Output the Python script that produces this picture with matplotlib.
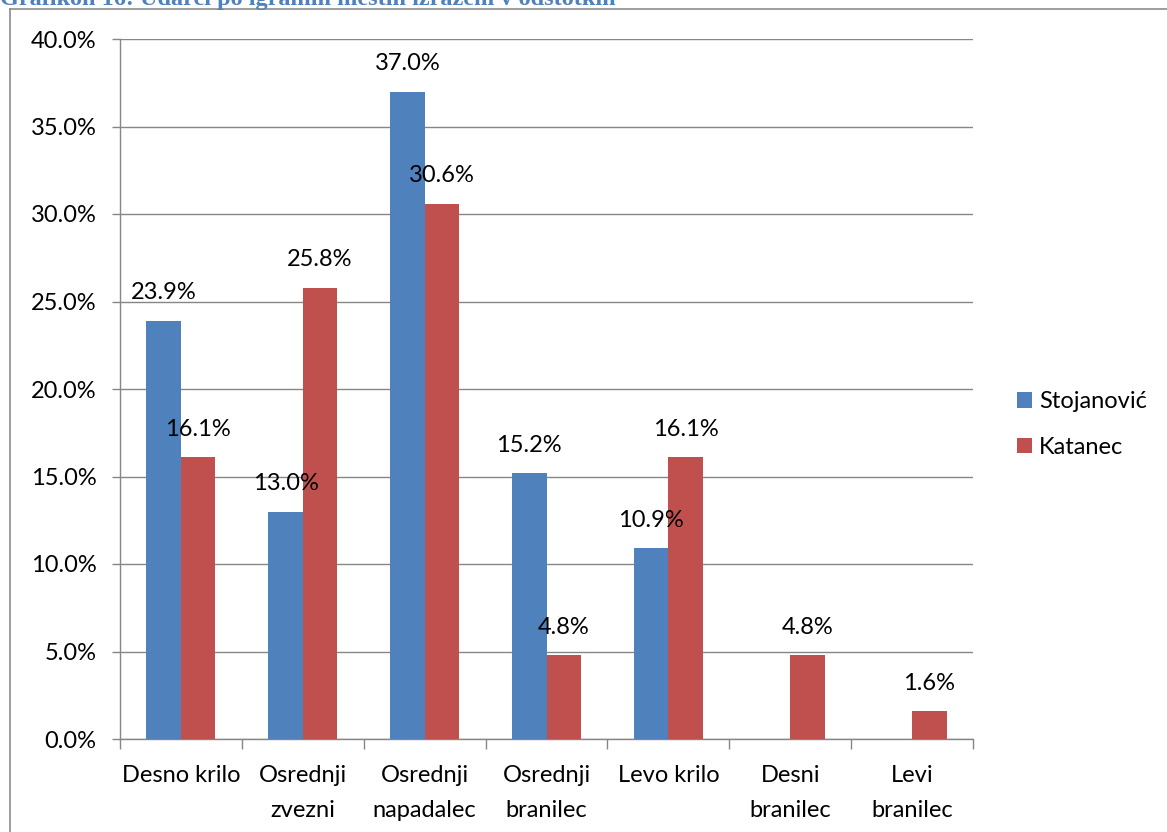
import matplotlib.pyplot as plt
import numpy as np
from matplotlib.lines import Line2D

plt.rcParams['font.family'] = ['Lato', 'DejaVu Sans']

categories = ["Desno krilo", "Osrednji\nzvezni", "Osrednji\nnapadalec", "Osrednji\nbranilec",
              "Levo krilo", "Desni\nbranilec", "Levi\nbranilec"]
stojanovic = [23.9, 13.0, 37.0, 15.2, 10.9, 0.0, 0.0]
katanec = [16.1, 25.8, 30.6, 4.8, 16.1, 4.8, 1.6]
series_names = ["Stojanović", "Katanec"]
y_ticks = [0, 5, 10, 15, 20, 25, 30, 35, 40]

blue = "#4F81BD"
red = "#C0504D"
grid_col = "#868686"
fs = 17

fig = plt.figure(figsize=(11.67, 8.32), dpi=100)
ax = fig.add_axes([120 / 1167, 1 - 739 / 832, 853 / 1167, 700 / 832])

# Frame around the chart (cut off at right and bottom)
fig.add_artist(Line2D([10 / 1167, 10 / 1167], [0, 1 - 9 / 832], transform=fig.transFigure,
                      color="#8C8C8C", lw=1.2))
fig.add_artist(Line2D([10 / 1167, 1], [1 - 9 / 832, 1 - 9 / 832], transform=fig.transFigure,
                      color="#8C8C8C", lw=1.2))

# Title, clipped at the top edge like in the source
fig.text(0.0, 1 - 5 / 832, "Grafikon 16: Udarci po igralnih mestih izraženi v odstotkih",
         family="Liberation Serif", weight="bold", color=blue, fontsize=17.5, va="baseline", ha="left")

x = np.arange(len(categories))
w = 0.283
b1 = ax.bar(x - w / 2, stojanovic, w, color=blue, label=series_names[0], zorder=3)
b2 = ax.bar(x + w / 2, katanec, w, color=red, label=series_names[1], zorder=3)

for bars, vals in ((b1, stojanovic), (b2, katanec)):
    for rect, v in zip(bars, vals):
        if v <= 0:
            continue
        ax.annotate(f"{v:.1f}%", (rect.get_x() + rect.get_width() / 2, v),
                    xytext=(0, 20), textcoords="offset points", ha="center", va="center",
                    fontsize=fs, color="black", zorder=5)

ax.set_xlim(-0.5, len(categories) - 0.5)
ax.set_ylim(0, 40)
ax.set_yticks(y_ticks)
ax.set_yticklabels([f"{t:.1f}%" for t in y_ticks], fontsize=fs)
ax.yaxis.grid(True, color=grid_col, lw=1.0, zorder=0)

ax.set_xticks(x)
ax.set_xticklabels(categories, fontsize=fs, linespacing=1.8)
ax.tick_params(axis="x", which="major", length=0, pad=19)
ax.set_xticks(np.arange(-0.5, len(categories), 1), minor=True)
ax.tick_params(axis="x", which="minor", length=7, color=grid_col, width=1.0)
ax.tick_params(axis="y", length=6, color=grid_col, width=1.0, pad=11)

for s in ["top", "right"]:
    ax.spines[s].set_visible(False)
for s in ["left", "bottom"]:
    ax.spines[s].set_color(grid_col)
    ax.spines[s].set_linewidth(1.0)

ax.legend(loc="center left", bbox_to_anchor=((1017 - 120) / 853, 0.449), frameon=False, fontsize=fs,
          borderaxespad=0, borderpad=0, handlelength=0.62, handleheight=0.62, handletextpad=0.3,
          labelspacing=1.05)

fig.savefig("out.png", dpi=100)
